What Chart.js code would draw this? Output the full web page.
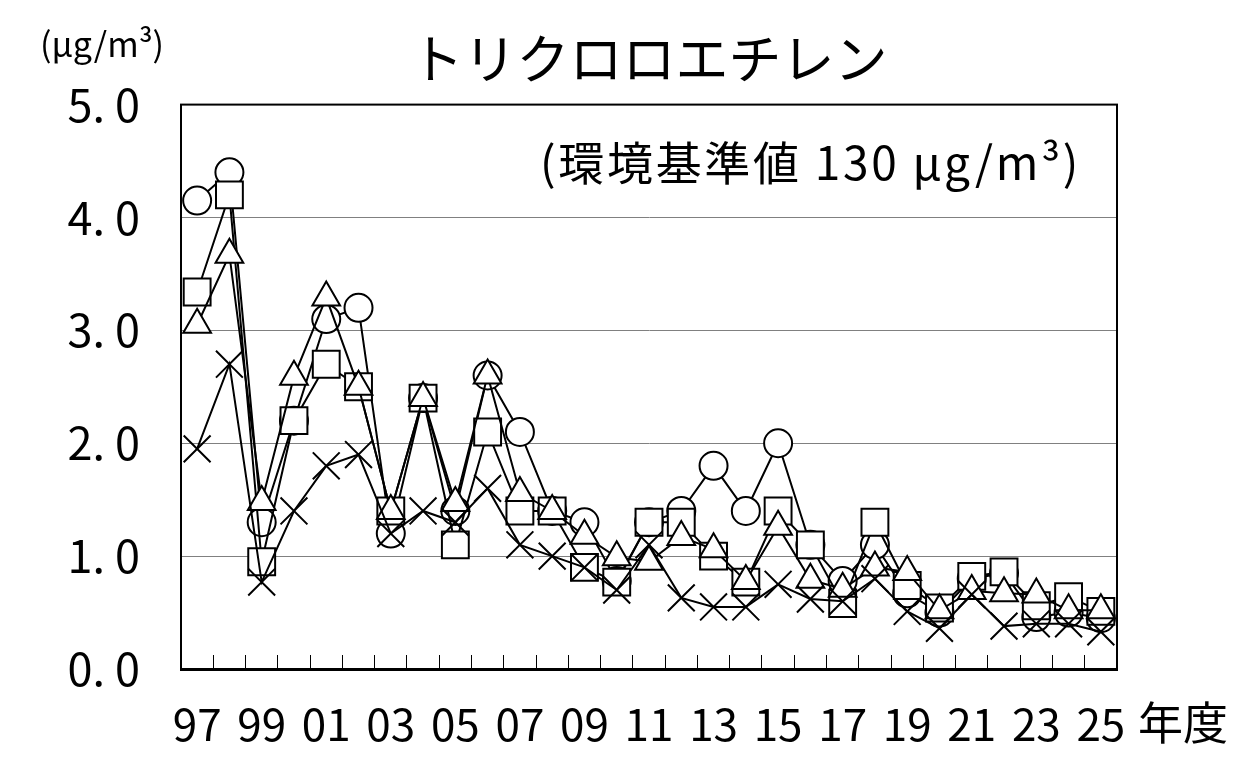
<!doctype html>
<html lang="ja">

<head>
    <meta charset="utf-8">
    <title>トリクロロエチレン</title>
    <script src="https://cdn.jsdelivr.net/npm/chart.js/dist/chart.umd.min.js"></script>
    <style>
        * {
            margin: 0;
            padding: 0;
        }

        body {
            background: #fff;
        }

        .chartBox {
            width: 1251px;
            height: 778px;
        }
    </style>
</head>

<body>
    <div class="chartBox">
        <canvas id="tceChart"></canvas>
    </div>

    <script>
    // 年度 (1997 - 2025)
    var years = ['97', '98', '99', '00', '01', '02', '03', '04', '05', '06', '07', '08', '09', '10',
        '11', '12', '13', '14', '15', '16', '17', '18', '19', '20', '21', '22', '23', '24', '25'];

    // ○
    var circleVals = [4.15, 4.40, 1.30, 2.20, 3.10, 3.20, 1.20, 2.40, 1.40, 2.60, 2.10, 1.40, 1.30, 0.78,
        1.30, 1.40, 1.80, 1.40, 2.00, 1.10, 0.78, 1.10, 0.67, 0.50, 0.80, 0.85, 0.46, 0.50, 0.45];
    // □
    var squareVals = [3.34, 4.20, 0.95, 2.20, 2.70, 2.50, 1.40, 2.40, 1.10, 2.10, 1.40, 1.40, 0.90, 0.77,
        1.30, 1.30, 1.00, 0.77, 1.40, 1.10, 0.58, 1.30, 0.74, 0.54, 0.82, 0.86, 0.56, 0.64, 0.51];
    // △
    var triangleVals = [3.05, 3.67, 1.48, 2.59, 3.29, 2.50, 1.40, 2.40, 1.47, 2.60, 1.56, 1.40, 1.18, 0.99,
        0.95, 1.17, 1.06, 0.78, 1.26, 0.79, 0.71, 0.90, 0.86, 0.52, 0.69, 0.67, 0.66, 0.52, 0.52];
    // ×
    var crossVals = [1.95, 2.70, 0.77, 1.40, 1.80, 1.90, 1.20, 1.40, 1.30, 1.60, 1.10, 1.00, 0.90, 0.70,
        1.10, 0.63, 0.55, 0.55, 0.75, 0.62, 0.60, 0.80, 0.51, 0.36, 0.66, 0.38, 0.40, 0.40, 0.33];

    var jpFont = '"Noto Sans CJK JP", sans-serif';

    function series(vals, style, radius, order) {
        return {
            data: vals,
            order: order,
            borderColor: '#000',
            borderWidth: 2,
            tension: 0,
            pointStyle: style,
            pointRadius: radius,
            pointHoverRadius: radius,
            pointBorderColor: '#000',
            pointBackgroundColor: '#fff',
            pointBorderWidth: 2
        };
    }

    // 枠線と注記テキスト
    var notes = {
        id: 'notes',
        beforeDraw: function (chart) {
            var c = chart.ctx;
            c.save();
            c.fillStyle = '#fff';
            c.fillRect(0, 0, chart.width, chart.height);
            c.restore();
        },
        afterDraw: function (chart) {
            var c = chart.ctx;
            var a = chart.chartArea;
            c.save();
            c.strokeStyle = '#000';
            c.lineWidth = 2;
            c.strokeRect(a.left, a.top, a.right - a.left, a.bottom - a.top);

            c.fillStyle = '#000';
            c.textBaseline = 'middle';
            c.textAlign = 'left';
            c.font = '34px ' + jpFont;
            c.fillText('(μg/m³)', 40, 44);

            c.font = '46px ' + jpFont;
            c.letterSpacing = '2.7px';
            c.fillText('(環境基準値 130 μg/m³)', 540, 163);

            c.letterSpacing = '0px';
            c.font = '45px ' + jpFont;
            c.fillText('年度', 1138, 723);
            c.restore();
        }
    };

    var ctx = document.getElementById('tceChart');
    var tceChart = new Chart(ctx, {
        type: 'line',
        data: {
            labels: years,
            datasets: [
                series(circleVals, 'circle', 14, 4),
                series(squareVals, 'rect', 19, 3),
                series(triangleVals, 'triangle', 16, 2),
                series(crossVals, 'crossRot', 19, 1)
            ]
        },
        options: {
            responsive: true,
            maintainAspectRatio: false,
            animation: false,
            layout: {
                padding: { left: 0, right: 134, top: 0, bottom: 0 }
            },
            scales: {
                x: {
                    offset: true,
                    grid: {
                        offset: true,
                        drawOnChartArea: false,
                        drawTicks: true,
                        tickLength: -14,
                        tickColor: '#000',
                        tickWidth: 1
                    },
                    border: { color: '#000', width: 3 },
                    ticks: {
                        autoSkip: false,
                        maxRotation: 0,
                        minRotation: 0,
                        padding: 43,
                        color: '#000',
                        font: { family: jpFont, size: 44 },
                        callback: function (v, i) {
                            return i % 2 === 0 ? this.getLabelForValue(v) : '';
                        }
                    },
                    afterFit: function (s) { s.height = 109; }
                },
                y: {
                    min: 0,
                    max: 5,
                    grid: { color: '#808080', lineWidth: 1, drawTicks: false },
                    border: { color: '#000', width: 2 },
                    ticks: {
                        stepSize: 1,
                        padding: 41,
                        color: '#000',
                        font: { family: jpFont, size: 45 },
                        callback: function (v) { return v.toFixed(1).replace('.', '. '); }
                    },
                    afterFit: function (s) { s.width = 181; }
                }
            },
            plugins: {
                legend: { display: false },
                tooltip: { enabled: false },
                title: {
                    display: true,
                    fullSize: false,
                    text: 'トリクロロエチレン',
                    color: '#000',
                    font: { family: jpFont, size: 53, weight: 'normal' },
                    padding: { top: 27, bottom: 14 }
                }
            }
        },
        plugins: [notes]
    });
    </script>
</body>

</html>
